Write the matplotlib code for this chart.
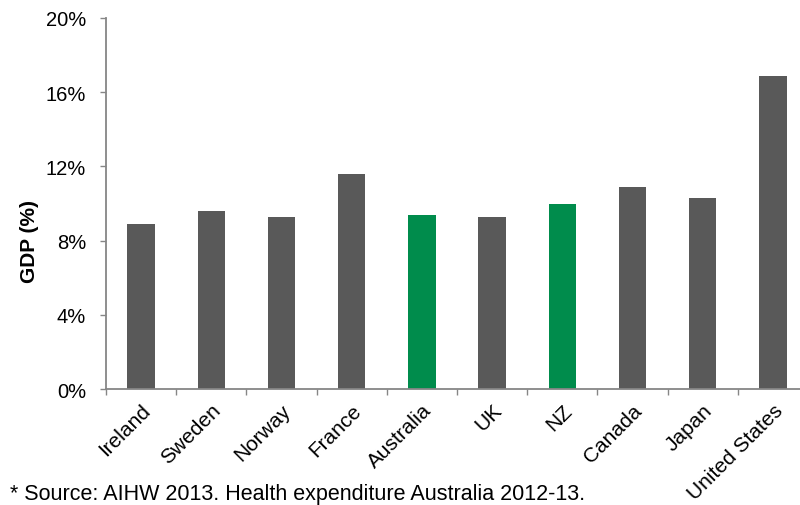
import matplotlib.pyplot as plt
import numpy as np

plt.rcParams['font.family'] = ['Liberation Sans', 'DejaVu Sans']

countries = ['Ireland', 'Sweden', 'Norway', 'France', 'Australia', 'UK', 'NZ',
             'Canada', 'Japan', 'United States']
gdp_share = [8.9, 9.6, 9.3, 11.6, 9.4, 9.3, 10.0, 10.9, 10.3, 16.9]
highlight = ['Australia', 'NZ']
yticks = [0, 4, 8, 12, 16, 20]

grey = '#595959'
green = '#008C4C'
axis_grey = '#868686'

fig = plt.figure(figsize=(8, 5.06), dpi=100)
ax = fig.add_axes([0.1325, 0.229, 0.8775, 0.7335])

x = np.arange(len(countries))
colors = [green if c in highlight else grey for c in countries]
ax.bar(x, gdp_share, width=0.39, color=colors)

ax.set_xlim(-0.5, len(countries) - 0.5)
ax.set_ylim(0, 20)
ax.set_yticks(yticks)
ax.set_yticklabels([f'{v}%' for v in yticks], fontsize=14.5)

# category labels at centres, tick marks at the boundaries
ax.set_xticks(x)
ax.set_xticklabels(countries, rotation=45, ha='right', rotation_mode='anchor', fontsize=15)
ax.set_xticks(np.arange(-0.5, len(countries)), minor=True)
ax.tick_params(axis='x', which='major', length=0, pad=8)
ax.tick_params(axis='x', which='minor', length=4, color=axis_grey, width=1)
ax.tick_params(axis='y', length=4.3, color=axis_grey, width=1, pad=10)

for side in ['top', 'right']:
    ax.spines[side].set_visible(False)
for side in ['left', 'bottom']:
    ax.spines[side].set_color(axis_grey)
    ax.spines[side].set_linewidth(1.3)

ax.set_ylabel('GDP (%)', fontsize=15, fontweight='bold')
ax.yaxis.set_label_coords(-0.096, 0.40)

fig.text(0.0125, 6 / 506, '* Source: AIHW 2013. Health expenditure Australia 2012-13.',
         fontsize=15.5, ha='left', va='baseline')

fig.savefig('out.png', dpi=100)
